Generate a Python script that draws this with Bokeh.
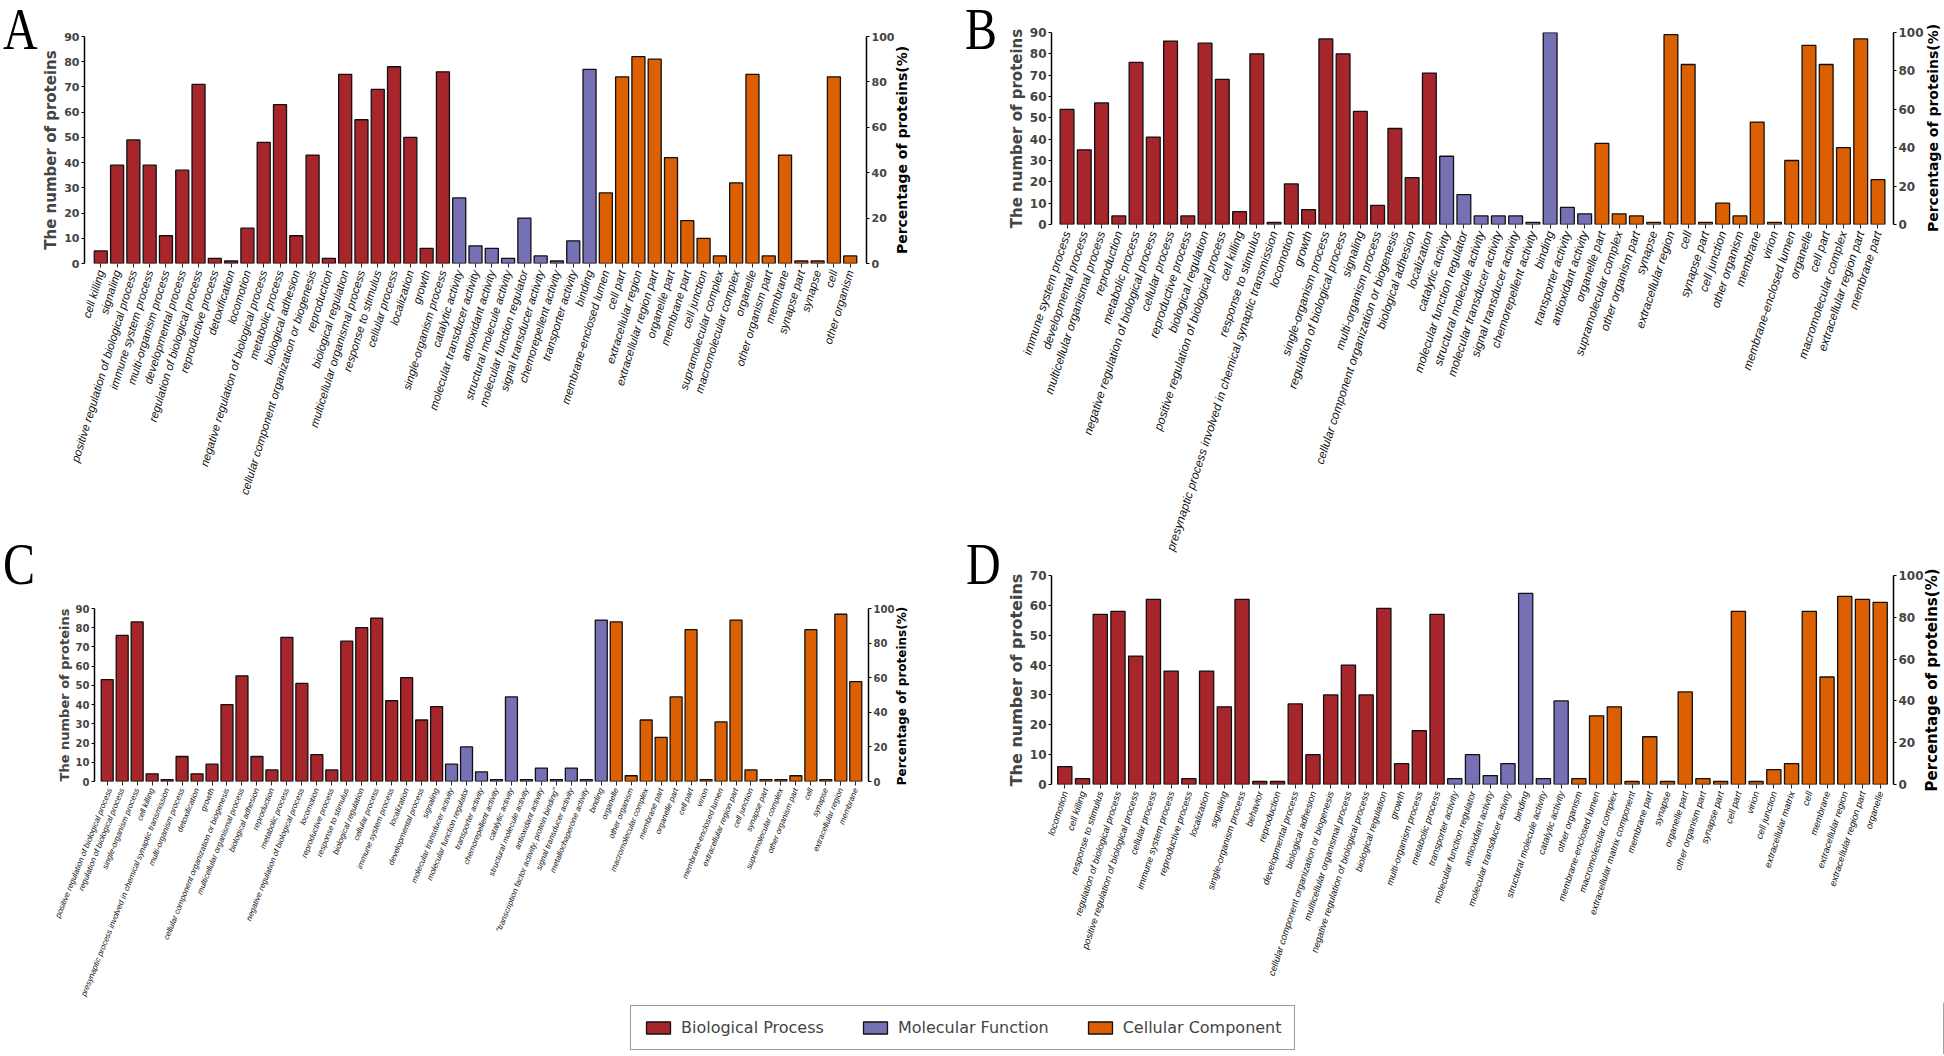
import math
from bokeh.plotting import figure
from bokeh.models import (FactorRange, Range1d, LinearAxis, Legend, LegendItem,
                          ColumnDataSource, FixedTicker, Div)
from bokeh.layouts import column, row
from bokeh.embed import file_html
from bokeh.resources import INLINE

RED = "#a6262c"
PURPLE = "#7670b4"
ORANGE = "#dc5f02"

# ---------------- Panel A ----------------
A_BP_TERMS = ["cell killing", "signaling", "positive regulation of biological process", "immune system process",
              "multi-organism process", "developmental process", "regulation of biological process",
              "reproductive process", "detoxification", "locomotion", "negative regulation of biological process",
              "metabolic process", "biological adhesion", "cellular component organization or biogenesis",
              "reproduction", "biological regulation", "multicellular organismal process", "response to stimulus",
              "cellular process", "localization", "growth", "single-organism process"]
A_BP_COUNTS = [5, 39, 49, 39, 11, 37, 71, 2, 1, 14, 48, 63, 11, 43, 2, 75, 57, 69, 78, 50, 6, 76]
A_MF_TERMS = ["catalytic activity", "molecular transducer activity", "antioxidant activity",
              "structural molecule activity", "molecular function regulator", "signal transducer activity",
              "chemorepellent activity", "transporter activity", "binding"]
A_MF_COUNTS = [26, 7, 6, 2, 18, 3, 1, 9, 77]
A_CC_TERMS = ["membrane-enclosed lumen", "cell part", "extracellular region", "extracellular region part",
              "organelle part", "membrane part", "cell junction", "supramolecular complex",
              "macromolecular complex", "organelle", "other organism part", "membrane", "synapse part",
              "synapse", "cell", "other organism"]
A_CC_COUNTS = [28, 74, 82, 81, 42, 17, 10, 3, 32, 75, 3, 43, 1, 1, 74, 3]

# ---------------- Panel B ----------------
B_BP_TERMS = ["immune system process", "developmental process", "multicellular organismal process", "reproduction",
              "metabolic process", "negative regulation of biological process", "cellular process",
              "reproductive process", "biological regulation", "positive regulation of biological process",
              "cell killing", "response to stimulus",
              "presynaptic process involved in chemical synaptic transmission", "locomotion", "growth",
              "single-organism process", "regulation of biological process", "signaling",
              "multi-organism process", "cellular component organization or biogenesis", "biological adhesion",
              "localization"]
B_BP_COUNTS = [54, 35, 57, 4, 76, 41, 86, 4, 85, 68, 6, 80, 1, 19, 7, 87, 80, 53, 9, 45, 22, 71]
B_MF_TERMS = ["catalytic activity", "molecular function regulator", "structural molecule activity",
              "molecular transducer activity", "signal transducer activity", "chemorepellent activity",
              "binding", "transporter activity", "antioxidant activity"]
B_MF_COUNTS = [32, 14, 4, 4, 4, 1, 90, 8, 5]
B_CC_TERMS = ["organelle part", "supramolecular complex", "other organism part", "synapse",
              "extracellular region", "cell", "synapse part", "cell junction", "other organism", "membrane",
              "virion", "membrane-enclosed lumen", "organelle", "cell part", "macromolecular complex",
              "extracellular region part", "membrane part"]
B_CC_COUNTS = [38, 5, 4, 1, 89, 75, 1, 10, 4, 48, 1, 30, 84, 75, 36, 87, 21]

# ---------------- Panel C ----------------
C_BP_TERMS = ["positive regulation of biological process", "regulation of biological process",
              "single-organism process", "cell killing",
              "presynaptic process involved in chemical synaptic transmission", "multi-organism process",
              "detoxification", "growth", "cellular component organization or biogenesis",
              "multicellular organismal process", "biological adhesion", "reproduction", "metabolic process",
              "negative regulation of biological process", "locomotion", "reproductive process",
              "response to stimulus", "biological regulation", "cellular process", "immune system process",
              "localization", "developmental process", "signaling"]
C_BP_COUNTS = [53, 76, 83, 4, 1, 13, 4, 9, 40, 55, 13, 6, 75, 51, 14, 6, 73, 80, 85, 42, 54, 32, 39]
C_MF_TERMS = ["molecular transducer activity", "molecular function regulator", "transporter activity",
              "chemorepellent activity", "catalytic activity", "structural molecule activity",
              "antioxidant activity", "\"transcription factor activity, protein binding\"",
              "signal transducer activity", "metallochaperone activity", "binding"]
C_MF_COUNTS = [9, 18, 5, 1, 44, 1, 7, 1, 7, 1, 84]
C_CC_TERMS = ["organelle", "other organism", "macromolecular complex", "membrane part", "organelle part",
              "cell part", "virion", "membrane-enclosed lumen", "extracellular region part", "cell junction",
              "synapse part", "supramolecular complex", "other organism part", "cell", "synapse",
              "extracellular region", "membrane"]
C_CC_COUNTS = [83, 3, 32, 23, 44, 79, 1, 31, 84, 6, 1, 1, 3, 79, 1, 87, 52]

# ---------------- Panel D ----------------
D_BP_TERMS = ["locomotion", "cell killing", "response to stimulus", "regulation of biological process",
              "positive regulation of biological process", "cellular process", "immune system process",
              "reproductive process", "localization", "signaling", "single-organism process", "behavior",
              "reproduction", "developmental process", "biological adhesion",
              "cellular component organization or biogenesis", "multicellular organismal process",
              "negative regulation of biological process", "biological regulation", "growth",
              "multi-organism process", "metabolic process"]
D_BP_COUNTS = [6, 2, 57, 58, 43, 62, 38, 2, 38, 26, 62, 1, 1, 27, 10, 30, 40, 30, 59, 7, 18, 57]
D_MF_TERMS = ["transporter activity", "molecular function regulator", "antioxidant activity",
              "molecular transducer activity", "binding", "structural molecule activity", "catalytic activity"]
D_MF_COUNTS = [2, 10, 3, 7, 64, 2, 28]
D_CC_TERMS = ["other organism", "membrane-enclosed lumen", "macromolecular complex",
              "extracellular matrix component", "membrane part", "synapse", "organelle part",
              "other organism part", "synapse part", "cell part", "virion", "cell junction",
              "extracellular matrix", "cell", "membrane", "extracellular region", "extracellular region part",
              "organelle"]
D_CC_COUNTS = [2, 23, 26, 1, 16, 1, 31, 2, 1, 58, 1, 5, 7, 58, 36, 63, 62, 61]

LEGEND_LABELS = ["Biological Process", "Molecular Function", "Cellular Component"]
PANEL_LETTERS = ["A", "B", "C", "D"]
Y_LEFT_LABEL = "The number of proteins"
Y_RIGHT_LABEL = "Percentage of proteins(%)"


def make_panel(bp_t, bp_v, mf_t, mf_v, cc_t, cc_v, ymax, W, H, borders, angle,
               cat_fs, tick_fs, title_fs, pad):
    bl, br, bt, bb = borders
    factors = bp_t + mf_t + cc_t
    p = figure(width=W, height=H,
               x_range=FactorRange(factors=factors, range_padding=pad, range_padding_units="absolute"),
               y_range=Range1d(0, ymax),
               output_backend="svg", toolbar_location=None, margin=0,
               min_border_left=bl, min_border_right=br, min_border_top=bt, min_border_bottom=bb)
    p.extra_y_ranges = {"pct": Range1d(0, 100)}
    for terms, vals, col in ((bp_t, bp_v, RED), (mf_t, mf_v, PURPLE), (cc_t, cc_v, ORANGE)):
        src = ColumnDataSource(dict(term=terms, count=vals))
        p.vbar(x="term", top="count", width=0.8, source=src, fill_color=col,
               line_color="#111111", line_width=1.3)
    p.xgrid.visible = False
    p.ygrid.visible = False
    p.outline_line_color = None

    xa = p.xaxis[0]
    xa.major_label_orientation = angle
    xa.major_label_text_font = "Liberation Sans"
    xa.major_label_text_font_style = "italic"
    xa.major_label_text_font_size = f"{cat_fs}px"
    xa.major_label_text_color = "#111111"
    xa.axis_line_color = None
    xa.major_tick_out = 4
    xa.major_tick_in = 0
    xa.major_tick_line_color = "#222222"
    xa.major_label_standoff = 3

    ya = p.yaxis[0]
    ya.ticker = FixedTicker(ticks=list(range(0, ymax + 1, 10)))
    ya.axis_label = Y_LEFT_LABEL
    ya.axis_label_text_font = "DejaVu Sans"
    ya.axis_label_text_font_style = "bold"
    ya.axis_label_text_font_size = f"{title_fs}px"
    ya.axis_label_standoff = 1
    ya.major_label_text_font = "DejaVu Sans"
    ya.major_label_text_font_style = "bold"
    ya.major_label_text_font_size = f"{tick_fs}px"
    ya.minor_tick_line_color = None
    ya.major_tick_out = 3
    ya.major_tick_in = 0
    ya.axis_line_width = 1.5
    ya.major_label_standoff = 2

    ra = LinearAxis(y_range_name="pct", ticker=FixedTicker(ticks=[0, 20, 40, 60, 80, 100]))
    ra.major_label_text_font = "DejaVu Sans"
    ra.major_label_text_font_style = "bold"
    ra.major_label_text_font_size = f"{tick_fs}px"
    ra.minor_tick_line_color = None
    ra.major_tick_out = 3
    ra.major_tick_in = 0
    ra.axis_line_width = 1.5
    ra.major_label_standoff = 2
    p.add_layout(ra, "right")
    return p


def letters_div(W, H, entries):
    inner = "".join(
        f'<div style="position:absolute;left:{x}px;top:{y}px;font-family:\'Liberation Serif\';'
        f'font-size:48px;line-height:1;color:#000;transform-origin:0 0;transform:scale(1,1.22);">{t}</div>'
        for t, x, y in entries)
    html = f'<div style="position:relative;width:{W}px;height:{H}px;">{inner}</div>'
    return Div(text=html, width=W, height=H, margin=0)


def titles_div(W, H, entries):
    inner = "".join(
        f'<div style="position:absolute;left:{cx}px;top:{cy}px;white-space:nowrap;'
        f'transform:translate(-50%,-50%) rotate(-90deg);font-family:\'DejaVu Sans\';font-weight:bold;'
        f'font-size:{fs}px;color:#000;">{Y_RIGHT_LABEL}</div>'
        for cx, cy, fs in entries)
    html = f'<div style="position:relative;width:{W}px;height:{H}px;">{inner}</div>'
    return Div(text=html, width=W, height=H, margin=0)


# Left column. Plots in one column share border sizes, so the left Div widths set the frame offsets.
# Panel A: letter 0..39, canvas 39..899, frame ~79..866 x 36..263, title 899..958
pA = make_panel(A_BP_TERMS, A_BP_COUNTS, A_MF_TERMS, A_MF_COUNTS, A_CC_TERMS, A_CC_COUNTS,
                90, 860, 530, (40, 33, 36, 267), math.radians(73), 11.5, 11, 15, 0.5)
rowA = row(letters_div(39, 530, [(PANEL_LETTERS[0], 3, 0)]), pA,
           titles_div(59, 530, [(3, 150, 14)]))

# Panel C: letter 0..53, canvas 53..901, frame ~93..868 x 608..784, title 901..958
pC = make_panel(C_BP_TERMS, C_BP_COUNTS, C_MF_TERMS, C_MF_COUNTS, C_CC_TERMS, C_CC_COUNTS,
                90, 848, 472, (40, 33, 78, 218), math.radians(68), 8, 10, 13, 0.35)
rowC = row(letters_div(53, 472, [(PANEL_LETTERS[2], 3, 5)]), pC,
           titles_div(57, 472, [(2, 166, 12)]))

# Right column: letters 958..1002, canvases 1002..1926, titles 1926..1944
# Panel B frame 1051..1897 x 32..224 ; Panel D frame 1051..1897 x 575..784
pB = make_panel(B_BP_TERMS, B_BP_COUNTS, B_MF_TERMS, B_MF_COUNTS, B_CC_TERMS, B_CC_COUNTS,
                90, 924, 563, (49, 29, 32, 339), math.radians(72), 12, 12, 15, 0.4)
pD = make_panel(D_BP_TERMS, D_BP_COUNTS, D_MF_TERMS, D_MF_COUNTS, D_CC_TERMS, D_CC_COUNTS,
                70, 924, 439, (49, 29, 12, 218), math.radians(72), 9.5, 12, 16, 0.25)
letR = letters_div(44, 1002, [(PANEL_LETTERS[1], 7, 0), (PANEL_LETTERS[3], 8, 535)])
titR = titles_div(18, 1002, [(7, 128, 14), (7, 680, 15)])

# ---------------- Legend strip ----------------
pL = figure(width=1944, height=52, x_range=Range1d(0, 1), y_range=Range1d(0, 1),
            output_backend="svg", toolbar_location=None, min_border=0, margin=0,
            x_axis_type=None, y_axis_type=None)
pL.outline_line_color = None
pL.xgrid.visible = False
pL.ygrid.visible = False
items = []
for lbl, col in zip(LEGEND_LABELS, (RED, PURPLE, ORANGE)):
    src = ColumnDataSource(dict(x=[5.0], top=[1.0]))  # outside the visible range: only the swatch shows
    r = pL.vbar(x="x", top="top", width=0.1, source=src, fill_color=col, line_color="#111111", line_width=1.3)
    items.append(LegendItem(label=lbl, renderers=[r]))
leg = Legend(items=items, orientation="horizontal", location=(630, 4),
             glyph_width=30, glyph_height=15, label_standoff=8, spacing=36, padding=12, margin=0,
             label_text_font="DejaVu Sans", label_text_font_size="16px",
             border_line_color="#333333", border_line_width=1, background_fill_alpha=1)
pL.add_layout(leg)

layout = column(row(column(rowA, rowC), row(letR, column(pB, pD), titR)), pL)

with open("out.html", "w") as f:
    f.write(file_html(layout, INLINE))
